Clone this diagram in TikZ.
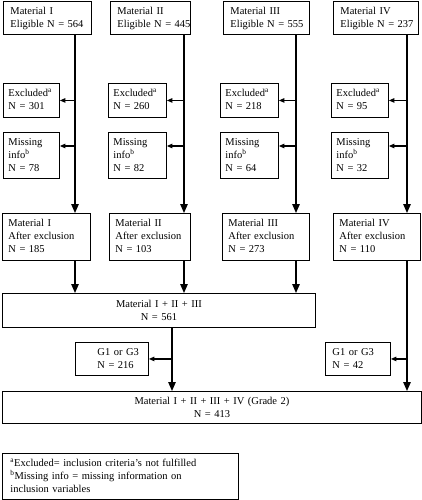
\documentclass[tikz,border=0pt]{standalone}
\usepackage{fontspec}
\setmainfont{Liberation Serif}
\usetikzlibrary{arrows.meta}
\newcommand\padl[2]{\begin{tabular}{@{\hspace{#1}}l@{}}#2\end{tabular}}
\begin{document}
\begin{tikzpicture}[x=1pt,y=-1pt,
  box/.style={draw, line width=0.9pt, anchor=north west, align=left, inner xsep=0pt, inner ysep=0pt,
    font=\fontsize{10.5}{13}\selectfont},
  cbox/.style={box, align=center},
  main/.style={line width=1.3pt, -{Triangle[length=9pt,width=7.5pt]}},
  side/.style={line width=1.1pt, -{Triangle[length=5.5pt,width=4.5pt]}}]
\useasboundingbox (0,0) rectangle (422,500);
% eligible
\node[box, text width=88pt, minimum height=33pt] (e1) at (3,1) {\padl{7pt}{Material I\\Eligible N = 564}};
\node[box, text width=80pt, minimum height=33pt] (e2) at (110,1) {\padl{7pt}{Material II\\Eligible N = 445}};
\node[box, text width=86pt, minimum height=33pt] (e3) at (223,1) {\padl{7pt}{Material III\\Eligible N = 555}};
\node[box, text width=85pt, minimum height=33pt] (e4) at (333,1) {\padl{7pt}{Material IV\\Eligible N = 237}};
% excluded
\node[box, text width=56pt, minimum height=34pt] (x1) at (3,83) {\padl{5pt}{Excluded\textsuperscript{a}\\N = 301}};
\node[box, text width=58pt, minimum height=34pt] (x2) at (108,83) {\padl{5pt}{Excluded\textsuperscript{a}\\N = 260}};
\node[box, text width=58pt, minimum height=34pt] (x3) at (220,83) {\padl{5pt}{Excluded\textsuperscript{a}\\N = 218}};
\node[box, text width=57pt, minimum height=34pt] (x4) at (331,83) {\padl{5pt}{Excluded\textsuperscript{a}\\N = 95}};
% missing
\node[box, text width=56pt, minimum height=46pt] (m1) at (3,132) {\padl{5pt}{Missing\\info\textsuperscript{b}\\N = 78}};
\node[box, text width=58pt, minimum height=46pt] (m2) at (108,132) {\padl{5pt}{Missing\\info\textsuperscript{b}\\N = 82}};
\node[box, text width=58pt, minimum height=46pt] (m3) at (220,132) {\padl{5pt}{Missing\\info\textsuperscript{b}\\N = 64}};
\node[box, text width=57pt, minimum height=46pt] (m4) at (331,132) {\padl{5pt}{Missing\\info\textsuperscript{b}\\N = 32}};
% after exclusion
\node[box, text width=88pt, minimum height=47pt] (a1) at (2,213) {\padl{6pt}{Material I\\After exclusion\\N = 185}};
\node[box, text width=81pt, minimum height=47pt] (a2) at (109,213) {\padl{6pt}{Material II\\After exclusion\\N = 103}};
\node[box, text width=87pt, minimum height=47pt] (a3) at (222,213) {\padl{6pt}{Material III\\After exclusion\\N = 273}};
\node[box, text width=87pt, minimum height=47pt] (a4) at (333,213) {\padl{6pt}{Material IV\\After exclusion\\N = 110}};
% combined
\node[cbox, text width=313pt, minimum height=34pt] (c123) at (2,293) {Material I + II + III\\N = 561};
\node[box, text width=73pt, minimum height=33pt] (g1) at (75,342) {\padl{22pt}{G1 or G3\\N = 216}};
\node[box, text width=65pt, minimum height=33pt] (g2) at (325,342) {\padl{7pt}{G1 or G3\\N = 42}};
\node[cbox, text width=419pt, minimum height=32pt] (fin) at (2,391) {Material I + II + III + IV (Grade 2)\\N = 413};
\node[box, text width=236pt, minimum height=46pt] (fn) at (2,453) {\padl{8pt}{\textsuperscript{a}Excluded= inclusion criteria's not fulfilled\\\textsuperscript{b}Missing info = missing information on\\inclusion variables}};
% line positions
\coordinate (c1) at (75,0);
\coordinate (c2) at (184,0);
\coordinate (c3) at (296,0);
\coordinate (c4) at (407,0);
\coordinate (cc) at (172,0);
\coordinate (ym) at (0,146);
% connectors
\foreach \i in {1,2,3,4}{
  \draw[main] (e\i.south -| c\i) -- (a\i.north -| c\i);
  \draw[side] (c\i |- x\i.east) -- (x\i.east);
  \draw[side] (c\i |- ym) -- (m\i.east |- ym);
}
\foreach \i in {1,2,3}{
  \draw[main] (a\i.south -| c\i) -- (c123.north -| c\i);
}
\draw[main] (a4.south -| c4) -- (fin.north -| c4);
\draw[side] (c4 |- g2.east) -- (g2.east);
\draw[main] (c123.south -| cc) -- (fin.north -| cc);
\draw[side] (cc |- g1.east) -- (g1.east);
\end{tikzpicture}
\end{document}
